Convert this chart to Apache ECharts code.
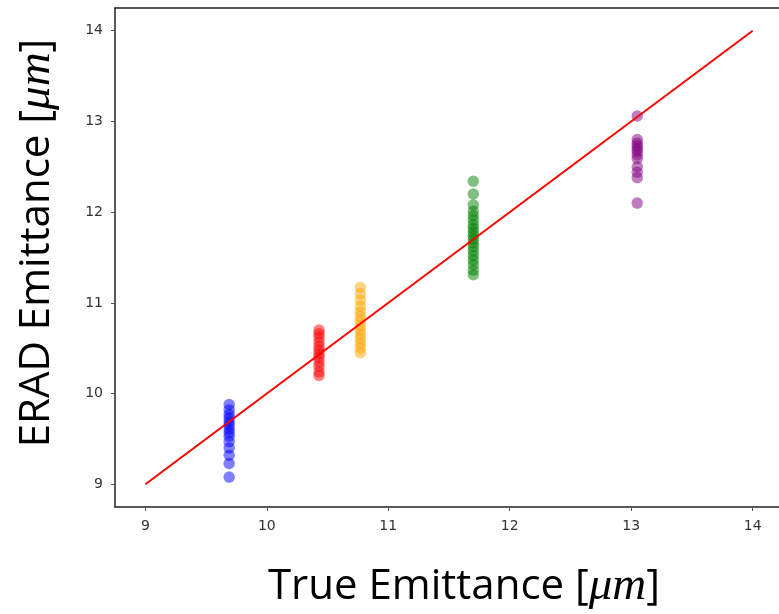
<!DOCTYPE html>
<html>
<head>
<meta charset="utf-8">
<script src="https://cdn.jsdelivr.net/npm/echarts@6/dist/echarts.min.js"></script>
<style>
html,body{margin:0;padding:0;background:#fff;}
#c{width:779px;height:614px;}
</style>
</head>
<body>
<div id="c"></div>
<script>
// Tick values
var xTicks = [9, 10, 11, 12, 13, 14];
var yTicks = [9, 10, 11, 12, 13, 14];

// Cluster x positions (true emittance)
var blueX = 9.69, redX = 10.43, orangeX = 10.77, greenX = 11.70, purpleX = 13.05;

// ERAD emittance values per cluster
var blueY = [9.88, 9.82, 9.77, 9.73, 9.69, 9.65, 9.61, 9.57, 9.53, 9.47, 9.40, 9.32, 9.23, 9.08];
var redY = [10.70, 10.66, 10.62, 10.57, 10.52, 10.48, 10.44, 10.40, 10.35, 10.30, 10.24, 10.20];
var orangeY = [11.17, 11.10, 11.03, 10.96, 10.90, 10.85, 10.80, 10.75, 10.70, 10.65, 10.60, 10.55, 10.50, 10.45];
var greenY = [12.34, 12.20, 12.08, 12.01, 11.96, 11.91, 11.86, 11.82, 11.78, 11.74, 11.70, 11.66, 11.62, 11.57, 11.52, 11.47, 11.42, 11.36, 11.31];
var purpleY = [13.06, 12.80, 12.76, 12.73, 12.70, 12.67, 12.63, 12.59, 12.50, 12.44, 12.38, 12.10];

// Identity reference line
var lineX = [9, 14];
var lineY = [9, 14];

function pts(x, ys) { return ys.map(function (y) { return [x, y]; }); }
function sc(name, x, ys, color) {
  return {
    name: name, type: 'scatter', data: pts(x, ys), symbolSize: 11.5,
    itemStyle: { color: color, opacity: 0.5 }, z: 2
  };
}

var chart = echarts.init(document.getElementById('c'));
var labelFont = { fontFamily: 'DejaVu Sans', fontSize: 14, color: '#333' };
var titleRich = {
  a: { fontFamily: 'Open Sans', fontSize: 42, color: '#474747' },
  b: { fontFamily: 'Liberation Serif', fontStyle: 'italic', fontSize: 47, color: '#474747' }
};
chart.setOption({
  animation: false,
  backgroundColor: '#fff',
  grid: { left: 115, top: 8, width: 668, height: 499, outerBoundsMode: 'none', containLabel: false, show: false },
  xAxis: [{
    type: 'value', min: 8.75, max: 14.25,
    axisLine: { show: true, lineStyle: { color: '#222', width: 1.5 } },
    axisTick: { show: true, length: 4, customValues: xTicks, lineStyle: { color: '#555' } },
    axisLabel: Object.assign({ customValues: xTicks, margin: 12 }, labelFont),
    splitLine: { show: false }
  }, {
    type: 'value', position: 'top', min: 8.75, max: 14.25,
    axisLine: { show: true, lineStyle: { color: '#222', width: 1.5 } },
    axisTick: { show: false }, axisLabel: { show: false }, splitLine: { show: false }
  }],
  yAxis: {
    type: 'value', min: 8.75, max: 14.25,
    axisLine: { show: true, lineStyle: { color: '#222', width: 1.5 } },
    axisTick: { show: true, length: 4, customValues: yTicks, lineStyle: { color: '#555' } },
    axisLabel: Object.assign({ customValues: yTicks, margin: 12 }, labelFont),
    splitLine: { show: false }
  },
  series: [
    sc('blue', blueX, blueY, '#0000ff'),
    sc('red', redX, redY, '#ff0000'),
    sc('orange', orangeX, orangeY, '#ffa500'),
    sc('green', greenX, greenY, '#008000'),
    sc('purple', purpleX, purpleY, '#800080'),
    {
      type: 'line', data: [[lineX[0], lineY[0]], [lineX[1], lineY[1]]],
      showSymbol: false, symbol: 'none', lineStyle: { color: '#ff0000', width: 2 }, z: 3
    }
  ],
  graphic: [
    {
      type: 'text', x: 464, y: 587,
      style: { text: '{a|True Emittance [}{b|μm}{a|]}', rich: titleRich, align: 'center', verticalAlign: 'middle' }
    },
    {
      type: 'text', x: 37, y: 243, rotation: Math.PI / 2,
      style: { text: '{a|ERAD Emittance [}{b|μm}{a|]}', rich: titleRich, align: 'center', verticalAlign: 'middle' }
    }
  ]
});
</script>
</body>
</html>
